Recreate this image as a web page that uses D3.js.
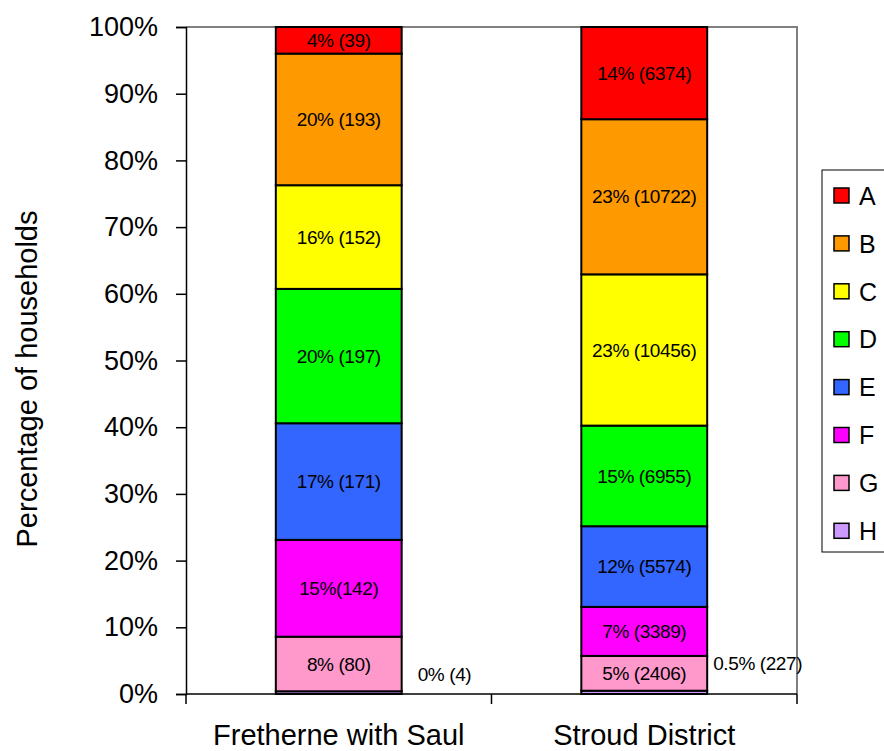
<!DOCTYPE html>
<html>
<head>
<meta charset="utf-8">
<script src="https://cdn.jsdelivr.net/npm/d3@7/dist/d3.min.js"></script>
<style>
  html, body { margin: 0; padding: 0; background: #fff; }
  svg { display: block; font-family: Arial, "Liberation Sans", sans-serif; }
</style>
</head>
<body>
<svg id="chart" width="884" height="751"></svg>
<script>
// Household counts per band, stacked bottom (H) to top (A)
const categories = ["Fretherne with Saul", "Stroud District"];
const bands = ["A", "B", "C", "D", "E", "F", "G", "H"];
const bandColors = ["#FF0000", "#FF9900", "#FFFF00", "#00FF00", "#3366FF", "#FF00FF", "#FF99CC", "#CC99FF"];
const fretherneCounts = [39, 193, 152, 197, 171, 142, 80, 4];
const stroudCounts = [6374, 10722, 10456, 6955, 5574, 3389, 2406, 227];
const fretherneLabels = ["4% (39)", "20% (193)", "16% (152)", "20% (197)", "17% (171)", "15%(142)", "8% (80)", "0% (4)"];
const stroudLabels = ["14% (6374)", "23% (10722)", "23% (10456)", "15% (6955)", "12% (5574)", "7% (3389)", "5% (2406)", "0.5% (227)"];
const yTicks = [0, 0.1, 0.2, 0.3, 0.4, 0.5, 0.6, 0.7, 0.8, 0.9, 1.0];

const series = [
  { name: categories[0], counts: fretherneCounts, labels: fretherneLabels },
  { name: categories[1], counts: stroudCounts, labels: stroudLabels }
];

const svg = d3.select("#chart");
const plot = { left: 186, right: 797, top: 27, bottom: 694 };

const x = d3.scaleBand()
  .domain(categories)
  .range([plot.left, plot.right])
  .paddingInner(0.588)
  .paddingOuter(0.294);

const y = d3.scaleLinear().domain([0, 1]).range([plot.bottom, plot.top]);

// Plot frame: grey top and right edges
svg.append("path")
  .attr("d", `M${plot.left},${plot.top}H${plot.right}V${plot.bottom}`)
  .attr("fill", "none")
  .attr("stroke", "#808080")
  .attr("stroke-width", 2);

// Stacked segments
series.forEach(s => {
  const total = d3.sum(s.counts);
  let cum = 0;
  const segs = [];
  for (let i = bands.length - 1; i >= 0; i--) {
    const y0 = cum / total;
    cum += s.counts[i];
    const y1 = cum / total;
    segs.push({ i, y0, y1 });
  }
  const g = svg.append("g");
  g.selectAll("rect")
    .data(segs)
    .join("rect")
    .attr("x", x(s.name))
    .attr("width", x.bandwidth())
    .attr("y", d => y(d.y1))
    .attr("height", d => y(d.y0) - y(d.y1))
    .attr("fill", d => bandColors[d.i])
    .attr("stroke", "#000")
    .attr("stroke-width", 2);

  g.selectAll("text")
    .data(segs.filter(d => d.i !== bands.length - 1))
    .join("text")
    .attr("x", x(s.name) + x.bandwidth() / 2)
    .attr("y", d => (y(d.y0) + y(d.y1)) / 2)
    .attr("dy", "0.35em")
    .attr("text-anchor", "middle")
    .attr("font-size", 19)
    .attr("letter-spacing", "-0.4px")
    .attr("fill", "#000")
    .text(d => s.labels[d.i]);
});

// Labels for the thin bottom band, placed beside each bar
const hIdx = bands.length - 1;
const sideLabel = [
  { dx: 16, y: 674 },
  { dx: 6, y: 663 }
];
series.forEach((s, k) => {
  svg.append("text")
    .attr("x", x(s.name) + x.bandwidth() + sideLabel[k].dx)
    .attr("y", sideLabel[k].y)
    .attr("dy", "0.35em")
    .attr("font-size", 19)
    .attr("letter-spacing", "-0.4px")
    .text(s.labels[hIdx]);
});

// Y axis
const yAxis = svg.append("g")
  .attr("transform", `translate(${plot.left},0)`)
  .call(d3.axisLeft(y).tickValues(yTicks).tickFormat(d3.format(".0%")).tickSize(10).tickPadding(18));
yAxis.select(".domain").attr("stroke", "#000").attr("stroke-width", 1.5);
yAxis.selectAll(".tick line").attr("stroke", "#000").attr("stroke-width", 1.5);
yAxis.selectAll(".tick text")
  .attr("font-size", 27)
  .attr("font-family", "Arial, 'Liberation Sans', sans-serif")
  .attr("fill", "#000");

// X axis with ticks at category boundaries
const xAxisG = svg.append("g").attr("transform", `translate(0,${plot.bottom})`);
xAxisG.append("line")
  .attr("x1", plot.left).attr("x2", plot.right)
  .attr("stroke", "#000").attr("stroke-width", 1.5);
const bounds = [plot.left, (x(categories[0]) + x.bandwidth() + x(categories[1])) / 2, plot.right];
xAxisG.selectAll("line.tk")
  .data(bounds)
  .join("line")
  .attr("class", "tk")
  .attr("x1", d => d).attr("x2", d => d)
  .attr("y1", 0).attr("y2", 10)
  .attr("stroke", "#000").attr("stroke-width", 1.5);
xAxisG.selectAll("text")
  .data(categories)
  .join("text")
  .attr("x", d => x(d) + x.bandwidth() / 2)
  .attr("y", 51)
  .attr("text-anchor", "middle")
  .attr("font-size", 29)
  .text(d => d);

// Y axis title
svg.append("text")
  .attr("transform", "translate(37,379) rotate(-90)")
  .attr("text-anchor", "middle")
  .attr("font-size", 29)
  .text("Percentage of households");

// Legend
const legend = svg.append("g").attr("transform", "translate(822,170)");
legend.append("rect")
  .attr("x", 0).attr("y", 0)
  .attr("width", 80).attr("height", 382)
  .attr("fill", "#fff")
  .attr("stroke", "#000")
  .attr("stroke-width", 1);
const item = legend.selectAll("g.item")
  .data(bands)
  .join("g")
  .attr("class", "item")
  .attr("transform", (d, i) => `translate(0,${26 + i * 47.9})`);
item.append("rect")
  .attr("x", 12).attr("y", -8)
  .attr("width", 15).attr("height", 15)
  .attr("fill", (d, i) => bandColors[i])
  .attr("stroke", "#000")
  .attr("stroke-width", 1.5);
item.append("text")
  .attr("x", 37).attr("y", 0)
  .attr("dy", "0.35em")
  .attr("font-size", 25)
  .text(d => d);
</script>
</body>
</html>
